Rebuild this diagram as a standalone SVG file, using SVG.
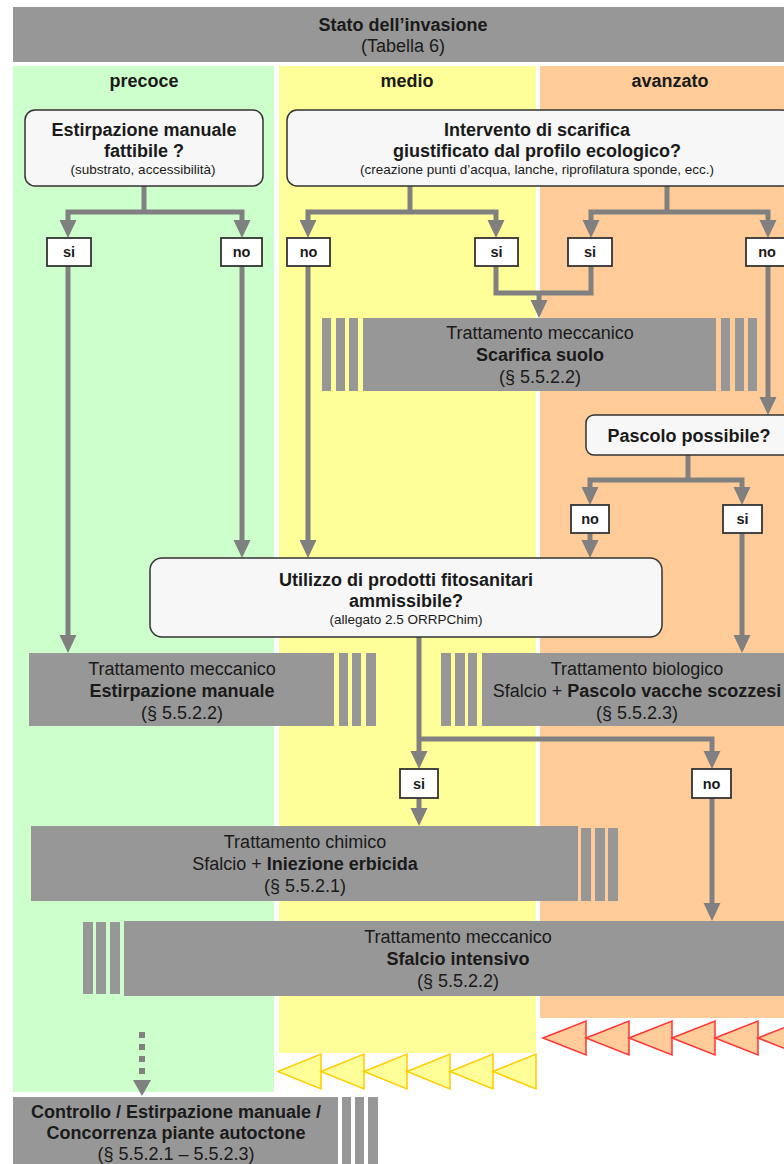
<svg xmlns="http://www.w3.org/2000/svg" width="784" height="1164" viewBox="0 0 784 1164">
<defs>
<style>
text{font-family:"Liberation Sans",Arial,sans-serif;fill:#1a1a1a;text-anchor:middle}
.b{font-weight:bold}
.t18{font-size:18px}
.sm{font-size:13.5px}
.lb{font-size:14.5px;font-weight:bold}
.box{fill:#979797}
.q{fill:#f7f7f7;stroke:#333;stroke-width:1.5}
.lab{fill:#fff;stroke:#333;stroke-width:1.8}
.c{fill:none;stroke:#808080;stroke-width:5;marker-end:url(#ah)}
.cn{fill:none;stroke:#808080;stroke-width:5}
.ty{fill:#ffff99;stroke:#ffcc00;stroke-width:1.5}
.to{fill:#ffcc99;stroke:#ff3333;stroke-width:1.5}
</style>
<marker id="ah" markerUnits="userSpaceOnUse" markerWidth="18" markerHeight="18" refX="8" refY="8.5" orient="auto" viewBox="0 0 18 17">
<path d="M0,0 L18,8.5 L0,17 z" fill="#808080"/>
</marker>
</defs>

<g id="columns">
<rect x="13" y="66" width="261" height="1026" fill="#ccffcc"/>
<rect x="279" y="66" width="257" height="987" fill="#ffff99"/>
<rect x="540" y="66" width="260" height="952" fill="#ffcc99"/>
<text class="b t18" x="144" y="87">precoce</text>
<text class="b t18" x="407" y="87">medio</text>
<text class="b t18" x="670" y="87">avanzato</text>
</g>

<g id="triangles">
<polygon class="ty" points="278,1071.5 321,1054 321,1089"/>
<polygon class="ty" points="321,1071.5 364,1054 364,1089"/>
<polygon class="ty" points="364,1071.5 407,1054 407,1089"/>
<polygon class="ty" points="407,1071.5 450,1054 450,1089"/>
<polygon class="ty" points="450,1071.5 493,1054 493,1089"/>
<polygon class="ty" points="493,1071.5 536,1054 536,1089"/>
<polygon class="to" points="543,1038 586,1021 586,1055"/>
<polygon class="to" points="586,1038 629,1021 629,1055"/>
<polygon class="to" points="629,1038 672,1021 672,1055"/>
<polygon class="to" points="672,1038 715,1021 715,1055"/>
<polygon class="to" points="715,1038 758,1021 758,1055"/>
<polygon class="to" points="758,1038 801,1021 801,1055"/>
</g>

<g id="header">
<rect x="13" y="7" width="790" height="55" fill="#979797"/>
<text class="b t18" x="403" y="31">Stato dell’invasione</text>
<text class="t18" x="403" y="52">(Tabella 6)</text>
</g>

<g id="connectors">
<path class="cn" d="M144,186 V212"/>
<path class="c" d="M144,212 H68 V228"/>
<path class="c" d="M144,212 H242 V228"/>
<path class="c" d="M68,266 V643"/>
<path class="c" d="M242,266 V548"/>
<path class="cn" d="M410,186 V212"/>
<path class="c" d="M410,212 H308 V228"/>
<path class="c" d="M410,212 H496 V228"/>
<path class="cn" d="M667,186 V212"/>
<path class="c" d="M667,212 H591 V228"/>
<path class="c" d="M667,212 H768 V228"/>
<path class="c" d="M308,266 V548"/>
<path class="cn" d="M496,266 V293 H591 V266"/>
<path class="c" d="M539,293 V308"/>
<path class="c" d="M768,266 V405"/>
<path class="cn" d="M688,455 V480"/>
<path class="c" d="M688,480 H590 V495"/>
<path class="c" d="M688,480 H742 V495"/>
<path class="c" d="M590,533 V548"/>
<path class="c" d="M742,533 V643"/>
<path class="c" d="M419,637 V759"/>
<path class="c" d="M419,739 H712 V759"/>
<path class="c" d="M419,798 V816"/>
<path class="c" d="M712,798 V911"/>
<path d="M142,1032 V1074" fill="none" stroke="#808080" stroke-width="6" stroke-dasharray="6 6"/>
<polygon points="133,1080 151,1080 142,1096" fill="#808080"/>
</g>

<g id="q-estirpazione">
<rect class="q" x="25" y="110" width="238" height="76" rx="10"/>
<text class="b t18" x="144" y="136">Estirpazione manuale</text>
<text class="b t18" x="144" y="157">fattibile ?</text>
<text class="sm" x="143" y="174">(substrato, accessibilità)</text>
</g>

<g id="q-scarifica">
<rect class="q" x="287" y="110" width="505" height="76" rx="10"/>
<text class="b t18" x="537" y="136">Intervento di scarifica</text>
<text class="b t18" x="537" y="157">giustificato dal profilo ecologico?</text>
<text class="sm" x="537" y="174">(creazione punti d’acqua, lanche, riprofilatura sponde, ecc.)</text>
</g>

<g id="labels-top">
<rect class="lab" x="47" y="238" width="44" height="28"/><text class="lb" x="69" y="257">si</text>
<rect class="lab" x="221" y="238" width="41" height="28"/><text class="lb" x="241.5" y="257">no</text>
<rect class="lab" x="287" y="238" width="43" height="28"/><text class="lb" x="308.5" y="257">no</text>
<rect class="lab" x="475" y="238" width="43" height="28"/><text class="lb" x="496.5" y="257">si</text>
<rect class="lab" x="568" y="238" width="44" height="28"/><text class="lb" x="590" y="257">si</text>
<rect class="lab" x="746" y="238" width="42" height="28"/><text class="lb" x="767" y="257">no</text>
</g>

<g id="scarifica-suolo">
<rect class="box" x="322" y="318" width="9" height="73"/>
<rect class="box" x="336" y="318" width="9" height="73"/>
<rect class="box" x="349" y="318" width="9" height="73"/>
<rect class="box" x="363" y="318" width="353" height="73"/>
<rect class="box" x="721" y="318" width="9" height="73"/>
<rect class="box" x="735" y="318" width="9" height="73"/>
<rect class="box" x="748" y="318" width="9" height="73"/>
<text class="t18" x="540" y="339">Trattamento meccanico</text>
<text class="b t18" x="540" y="361">Scarifica suolo</text>
<text class="t18" x="540" y="383">(§ 5.5.2.2)</text>
</g>

<g id="q-pascolo">
<rect class="q" x="586" y="415" width="210" height="40" rx="8"/>
<text class="b t18" x="689" y="442">Pascolo possibile?</text>
</g>

<g id="labels-pascolo">
<rect class="lab" x="571" y="505" width="38" height="28"/><text class="lb" x="590" y="524">no</text>
<rect class="lab" x="723" y="505" width="39" height="28"/><text class="lb" x="742.5" y="524">si</text>
</g>

<g id="q-utilizzo">
<rect class="q" x="150" y="558" width="512" height="79" rx="12"/>
<text class="b t18" x="406" y="586">Utilizzo di prodotti fitosanitari</text>
<text class="b t18" x="406" y="607">ammissibile?</text>
<text class="sm" x="406" y="624">(allegato 2.5 ORRPChim)</text>
</g>

<g id="estirpazione-manuale">
<rect class="box" x="29" y="653" width="305" height="73"/>
<rect class="box" x="339" y="653" width="9" height="73"/>
<rect class="box" x="352" y="653" width="9" height="73"/>
<rect class="box" x="366" y="653" width="10" height="73"/>
<text class="t18" x="182" y="675">Trattamento meccanico</text>
<text class="b t18" x="182" y="697">Estirpazione manuale</text>
<text class="t18" x="182" y="719">(§ 5.5.2.2)</text>
</g>

<g id="trattamento-biologico">
<rect class="box" x="441" y="653" width="10" height="73"/>
<rect class="box" x="455" y="653" width="10" height="73"/>
<rect class="box" x="468" y="653" width="9" height="73"/>
<rect class="box" x="482" y="653" width="320" height="73"/>
<text class="t18" x="637" y="675">Trattamento biologico</text>
<text class="t18" x="637" y="697">Sfalcio + <tspan class="b">Pascolo vacche scozzesi</tspan></text>
<text class="t18" x="637" y="719">(§ 5.5.2.3)</text>
</g>

<g id="labels-utilizzo">
<rect class="lab" x="400" y="769" width="38" height="29"/><text class="lb" x="419" y="789">si</text>
<rect class="lab" x="692" y="769" width="39" height="29"/><text class="lb" x="711.5" y="789">no</text>
</g>

<g id="trattamento-chimico">
<rect class="box" x="31" y="826" width="547" height="75"/>
<rect class="box" x="581" y="828" width="10" height="73"/>
<rect class="box" x="595" y="828" width="10" height="73"/>
<rect class="box" x="608" y="828" width="10" height="73"/>
<text class="t18" x="305" y="848">Trattamento chimico</text>
<text class="t18" x="305" y="870">Sfalcio + <tspan class="b">Iniezione erbicida</tspan></text>
<text class="t18" x="305" y="892">(§ 5.5.2.1)</text>
</g>

<g id="sfalcio-intensivo">
<rect class="box" x="83" y="922" width="10" height="72"/>
<rect class="box" x="96" y="922" width="10" height="72"/>
<rect class="box" x="110" y="922" width="10" height="72"/>
<rect class="box" x="124" y="921" width="680" height="75"/>
<text class="t18" x="458" y="943">Trattamento meccanico</text>
<text class="b t18" x="458" y="965">Sfalcio intensivo</text>
<text class="t18" x="458" y="987">(§ 5.5.2.2)</text>
</g>

<g id="controllo">
<rect class="box" x="13" y="1097" width="325" height="75"/>
<rect class="box" x="342" y="1097" width="9" height="75"/>
<rect class="box" x="355" y="1097" width="9" height="75"/>
<rect class="box" x="368" y="1097" width="10" height="75"/>
<text class="b t18" x="176" y="1118">Controllo / Estirpazione manuale /</text>
<text class="b t18" x="176" y="1139">Concorrenza piante autoctone</text>
<text class="t18" x="176" y="1160">(§ 5.5.2.1 – 5.5.2.3)</text>
</g>
</svg>
